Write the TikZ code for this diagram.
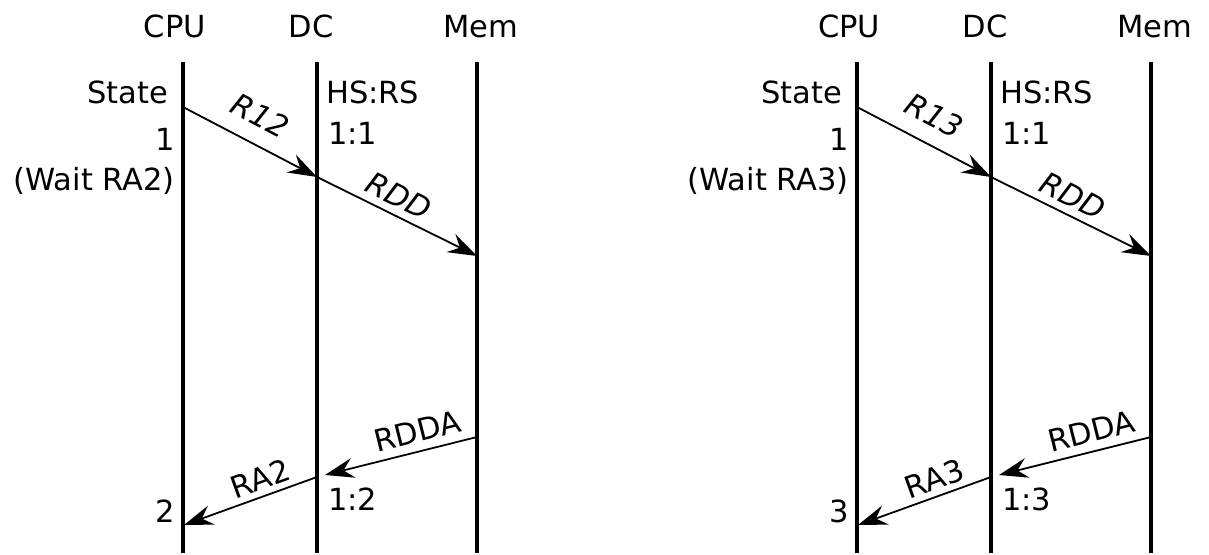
\documentclass[tikz,border=0pt]{standalone}
\usepackage{fontspec}
\setmainfont{DejaVu Sans}
\usetikzlibrary{arrows.meta}

\begin{document}
\begin{tikzpicture}[
  x=1pt,y=-1pt,
  font=\fontsize{30.5}{36}\selectfont,
  lifeline/.style={line width=3.2pt},
  msg/.style={-{Stealth[length=29pt,width=20pt,inset=10pt]},line width=1.8pt},
  msglabel/.style={sloped,inner sep=4pt},
  head/.style={anchor=base,inner sep=0pt},
  leftnote/.style={anchor=base east,inner sep=0pt},
  rightnote/.style={anchor=base west,inner sep=0pt}
]
  \useasboundingbox (0,0) rectangle (1209,554);

  \foreach \dx/\s/\n in {0/a/2,674/b/3}{
  \begin{scope}[xshift=\dx]
    % lifelines
    \coordinate (cpu\s top) at (183,62);  \coordinate (cpu\s bot) at (183,553);
    \coordinate (dc\s top) at (317,62);   \coordinate (dc\s bot) at (317,553);
    \coordinate (mem\s top) at (477,62);  \coordinate (mem\s bot) at (477,553);
    \draw[lifeline] (cpu\s top) -- (cpu\s bot);
    \draw[lifeline] (dc\s top) -- (dc\s bot);
    \draw[lifeline] (mem\s top) -- (mem\s bot);

    \node[head] (cpuhead\s) at (175,37) {CPU};
    \node[head] (dchead\s) at (311,37) {DC};
    \node[head] (memhead\s) at (481,37) {Mem};

    % states
    \node[leftnote] (state\s) at (168,103) {State};
    \node[leftnote] (first\s) at (175,150) {1};
    \node[leftnote] (wait\s) at (175,190) {(Wait RA\n)};
    \node[leftnote] (last\s) at (175,522) {\n};
    \node[rightnote] (hsrs\s) at (326,103) {HS:RS};
    \node[rightnote] (hsone\s) at (328,144) {1:1};
    \node[rightnote] (hstwo\s) at (328,510) {1:\n};

    % messages
    \coordinate (req\s) at (183,107);
    \coordinate (reqin\s) at (317,177);
    \coordinate (rddin\s) at (477,256);
    \coordinate (rdda\s) at (477,437);
    \coordinate (rddain\s) at (325,475);
    \coordinate (ra\s) at (317,477);
    \coordinate (rain\s) at (184,525);

    \draw[msg] (req\s) -- node[msglabel,above=12pt,pos=.48] {\itshape R1\n} (reqin\s);
    \draw[msg] (reqin\s) -- node[msglabel,above=3.5pt,pos=.46] {\itshape RDD} (rddin\s);
    \draw[msg] (rdda\s) -- node[msglabel,above=4pt,pos=.36] {RDDA} (rddain\s);
    \draw[msg] (ra\s) -- node[msglabel,above=1.5pt,pos=.38] {RA\n} (rain\s);
  \end{scope}
  }
\end{tikzpicture}
\end{document}
